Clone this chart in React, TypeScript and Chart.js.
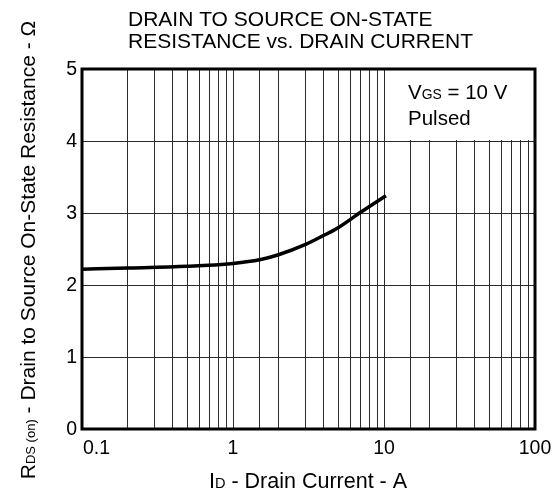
import React, { useEffect, useRef } from "react";
import { Chart, registerables } from "chart.js";

Chart.register(...registerables);

// ---- data ----
const currentA = [0.1, 0.2, 0.5, 1, 1.5, 2, 3, 4, 5, 7, 10.3];
const resistanceOhm = [2.22, 2.235, 2.26, 2.3, 2.35, 2.42, 2.56, 2.69, 2.8, 3.01, 3.24];
const xTickValues = [0.1, 1, 10, 100];
const xTickLabels = ["0.1", "1", "10", "100"];
const yTickValues = [0, 1, 2, 3, 4, 5];
const yTickLabels = ["0", "1", "2", "3", "4", "5"];
const titleLines = ["DRAIN TO SOURCE ON-STATE", "RESISTANCE vs. DRAIN CURRENT"];
const annotationLine2 = "Pulsed";

const FONT = '"Liberation Sans", Arial, Helvetica, sans-serif';

type Part = [string, number];

function drawRich(
  ctx: CanvasRenderingContext2D,
  parts: Part[],
  x: number,
  y: number,
  size: number,
  align: "left" | "center" | "right"
) {
  let total = 0;
  const widths: number[] = [];
  for (const [t, s] of parts) {
    ctx.font = `${size * s}px ${FONT}`;
    const w = ctx.measureText(t).width;
    widths.push(w);
    total += w;
  }
  let cx = align === "left" ? x : align === "center" ? x - total / 2 : x - total;
  ctx.textAlign = "left";
  ctx.textBaseline = "alphabetic";
  parts.forEach(([t, s], i) => {
    ctx.font = `${size * s}px ${FONT}`;
    ctx.fillText(t, cx, y);
    cx += widths[i];
  });
}

const decorPlugin = {
  id: "decor",
  beforeDatasetsDraw(chart: any) {
    const { ctx, chartArea, scales } = chart;
    const x = scales.x;
    const y = scales.y;
    ctx.save();
    // white box behind annotation
    const bx = x.getPixelForValue(10) + 1;
    const by = chartArea.top;
    const bh = y.getPixelForValue(4) - 1 - by;
    ctx.fillStyle = "#fff";
    ctx.fillRect(bx, by, chartArea.right - bx, bh);
    ctx.fillStyle = "#000";
    drawRich(ctx, [["V", 1], ["GS", 0.68], [" = 10 V", 1]], 408, 99, 20.5, "left");
    drawRich(ctx, [[annotationLine2, 1]], 408, 125, 20.5, "left");
    ctx.restore();
  },
  afterDraw(chart: any) {
    const { ctx, chartArea, scales } = chart;
    const x = scales.x;
    const y = scales.y;
    ctx.save();
    // frame
    ctx.strokeStyle = "#000";
    ctx.lineWidth = 3;
    ctx.strokeRect(chartArea.left, chartArea.top, chartArea.right - chartArea.left, chartArea.bottom - chartArea.top);

    ctx.fillStyle = "#000";
    // y tick labels
    ctx.font = `19.5px ${FONT}`;
    ctx.textAlign = "right";
    ctx.textBaseline = "middle";
    yTickValues.forEach((v, i) => {
      ctx.fillText(yTickLabels[i], chartArea.left - 5, y.getPixelForValue(v) + 1);
    });
    // x tick labels
    ctx.textBaseline = "alphabetic";
    xTickValues.forEach((v, i) => {
      const px = x.getPixelForValue(v);
      ctx.textAlign = i === 0 ? "left" : "center";
      ctx.fillText(xTickLabels[i], i === 0 ? px + 1 : px, 454);
    });
    // title
    ctx.textAlign = "left";
    ctx.font = `21px ${FONT}`;
    ctx.fillText(titleLines[0], 128, 26);
    ctx.fillText(titleLines[1], 128, 48);
    // x axis label
    drawRich(ctx, [["I", 1], ["D", 0.68], [" - Drain Current - A", 1]], 308, 488, 21.5, "center");
    // y axis label
    ctx.translate(35, 250);
    ctx.rotate(-Math.PI / 2);
    drawRich(
      ctx,
      [["R", 1], ["DS (on)", 0.62], [" - Drain to Source On-State Resistance - \u03A9", 1]],
      0,
      0,
      21,
      "center"
    );
    ctx.restore();
  },
};

export default function App() {
  const ref = useRef<HTMLCanvasElement | null>(null);
  useEffect(() => {
    if (!ref.current) return;
    const chart = new Chart(ref.current, {
      type: "line",
      data: {
        datasets: [
          {
            data: currentA.map((v, i) => ({ x: v, y: resistanceOhm[i] })),
            borderColor: "#000",
            borderWidth: 3.5,
            pointRadius: 0,
            tension: 0.4,
            cubicInterpolationMode: "monotone",
            fill: false,
          },
        ],
      },
      options: {
        responsive: false,
        animation: false,
        devicePixelRatio: 1,
        layout: { padding: { left: 82, top: 69, right: 17, bottom: 65 } },
        plugins: {
          legend: { display: false },
          tooltip: { enabled: false },
          title: { display: false },
        },
        scales: {
          x: {
            type: "logarithmic",
            min: 0.1,
            max: 100,
            ticks: { display: false, autoSkip: false },
            grid: { color: "#2a2a2a", lineWidth: 1, drawTicks: false },
            border: { display: false },
          },
          y: {
            type: "linear",
            min: 0,
            max: 5,
            ticks: { display: false, stepSize: 1 },
            grid: { color: "#2a2a2a", lineWidth: 1, drawTicks: false },
            border: { display: false },
          },
        },
      },
      plugins: [decorPlugin],
    } as any);
    return () => chart.destroy();
  }, []);
  return (
    <div style={{ position: "absolute", left: 0, top: 0, width: 552, height: 494, background: "#fff" }}>
      <canvas ref={ref} width={552} height={494} style={{ display: "block" }} />
    </div>
  );
}
